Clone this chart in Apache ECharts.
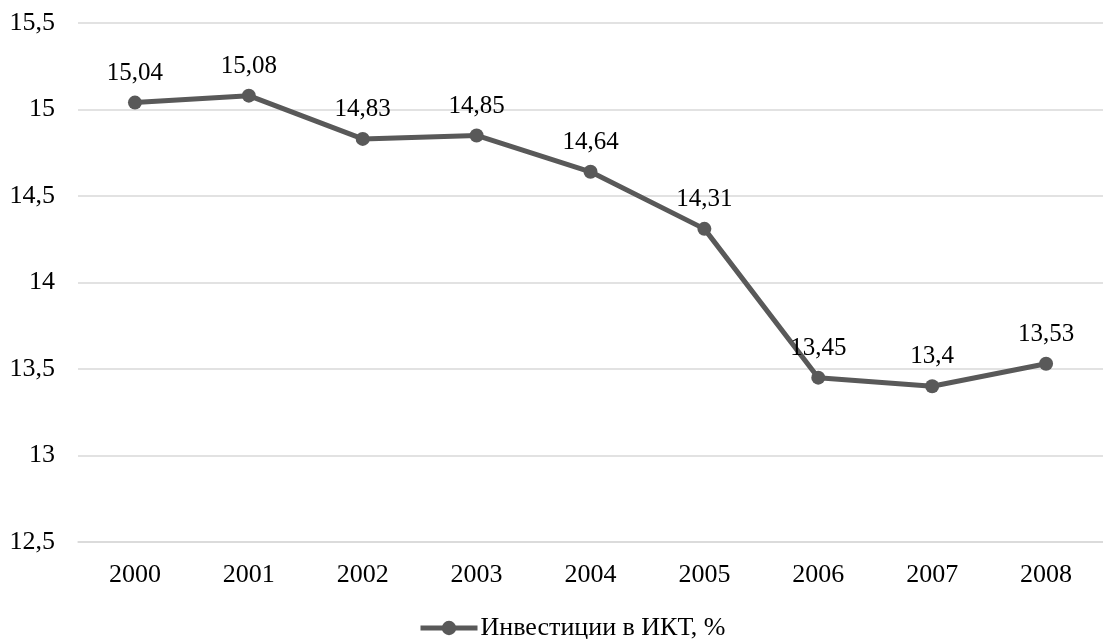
<!DOCTYPE html>
<html>
<head>
<meta charset="utf-8">
<script src="https://cdn.jsdelivr.net/npm/echarts@6/dist/echarts.min.js"></script>
<style>
  html, body { margin: 0; padding: 0; background: #fff; }
  #chart { width: 1103px; height: 639px; }
</style>
</head>
<body>
<div id="chart"></div>
<script>
// Годы и доля инвестиций в ИКТ
const years = ['2000', '2001', '2002', '2003', '2004', '2005', '2006', '2007', '2008'];
const ictShare = [15.04, 15.08, 14.83, 14.85, 14.64, 14.31, 13.45, 13.4, 13.53];
const seriesName = 'Инвестиции в ИКТ, %';

const FONT = '"Liberation Serif", "Times New Roman", serif';
const comma = v => String(v).replace('.', ',');

const chart = echarts.init(document.getElementById('chart'), null, { renderer: 'canvas' });
chart.setOption({
  animation: false,
  backgroundColor: '#ffffff',
  textStyle: { fontFamily: FONT },
  grid: { left: 78, top: 23, width: 1040, height: 519, containLabel: false },
  xAxis: {
    type: 'category',
    data: years,
    boundaryGap: true,
    axisLine: { show: true, lineStyle: { color: '#d9d9d9', width: 1.5 } },
    axisTick: { show: false },
    axisLabel: { color: '#000', fontFamily: FONT, fontSize: 26, margin: 20 }
  },
  yAxis: {
    type: 'value',
    min: 12.5,
    max: 15.5,
    interval: 0.5,
    axisLine: { show: false },
    axisTick: { show: false },
    splitLine: { lineStyle: { color: '#d9d9d9', width: 1.5 } },
    axisLabel: { color: '#000', fontFamily: FONT, fontSize: 26, margin: 23, formatter: v => comma(v) }
  },
  legend: {
    top: 610,
    left: 413,
    itemWidth: 57,
    itemHeight: 18,
    itemGap: 10,
    lineStyle: { width: 5 },
    textStyle: { color: '#000', fontFamily: FONT, fontSize: 26, padding: [0, 0, 0, -2] },
    data: [seriesName]
  },
  series: [{
    name: seriesName,
    type: 'line',
    data: ictShare,
    symbol: 'circle',
    symbolSize: 14,
    lineStyle: { color: '#595959', width: 5 },
    itemStyle: { color: '#595959' },
    label: {
      show: true,
      position: 'top',
      distance: 10,
      color: '#000',
      fontFamily: FONT,
      fontSize: 25,
      formatter: p => comma(p.value)
    }
  }]
});
</script>
</body>
</html>
